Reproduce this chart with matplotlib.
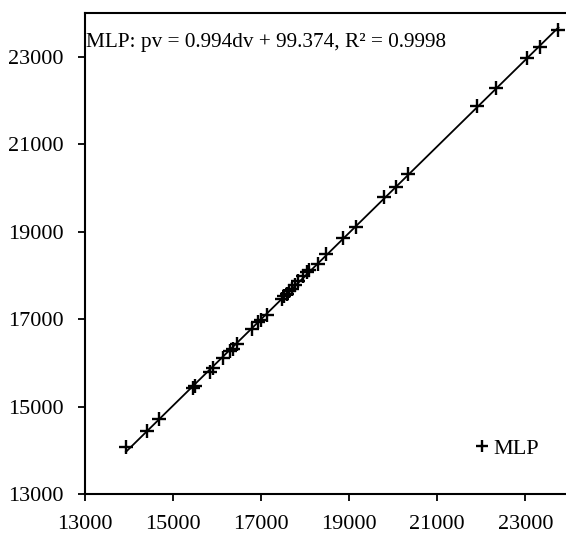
import matplotlib
matplotlib.use('Agg')
import matplotlib.pyplot as plt
import numpy as np

plt.rcParams['font.family'] = ['Liberation Serif', 'DejaVu Serif']

# 實測值 dv 與 MLP 預測值 pv
dv = [13939, 14415, 14694, 15454, 15499, 15850, 15925, 16138, 16304, 16372,
      16456, 16803, 16946, 16995, 17136, 17472, 17528, 17585, 17642, 17698,
      17778, 17853, 17952, 18043, 18102, 18293, 18488, 18873, 19150, 19803,
      20068, 20347, 21898, 22329, 23045, 23333, 23748]
pv = [14067, 14447, 14707, 15434, 15480, 15795, 15873, 16102, 16262, 16314,
      16429, 16778, 16938, 16977, 17103, 17457, 17526, 17583, 17640, 17697,
      17789, 17880, 17994, 18074, 18131, 18264, 18481, 18856, 19096, 19782,
      20024, 20307, 21868, 22296, 22982, 23224, 23606]

ticks = [13000, 15000, 17000, 19000, 21000, 23000]
eq_text = 'MLP: pv = 0.994dv + 99.374, R² = 0.9998'
series_name = 'MLP'

fig = plt.figure(figsize=(5.66, 5.38), dpi=100)
ax = fig.add_axes([84.5 / 566, 44 / 538, 485 / 566, 481 / 538])

dv = np.array(dv)
pv = np.array(pv)

# 趨勢線
k, b = np.polyfit(dv, pv, 1)
xs = np.array([dv.min(), dv.max()])
ax.plot(xs, k * xs + b, color='black', lw=1.3, zorder=2)

ax.plot(dv, pv, '+', color='black', ms=10, mew=1.7, label=series_name, zorder=3)

ax.set_xlim(13000, 24000)
ax.set_ylim(13000, 24000)
ax.set_xticks(ticks)
ax.set_yticks(ticks)
ax.tick_params(direction='out', length=5, width=1.3, labelsize=16)
ax.tick_params(axis='x', pad=10)
ax.tick_params(axis='y', pad=10)
for s in ax.spines.values():
    s.set_linewidth(1.5)
ax.spines['right'].set_visible(False)

ax.text(0.003, 0.938, eq_text, transform=ax.transAxes, fontsize=15.3,
        ha='left', va='center')

ax.legend(loc='lower right', bbox_to_anchor=(0.97, 0.04), frameon=False,
          fontsize=16, handlelength=0.6, handletextpad=0.25, borderpad=0.2,
          markerscale=0.9)

fig.savefig('out.png', dpi=100)
